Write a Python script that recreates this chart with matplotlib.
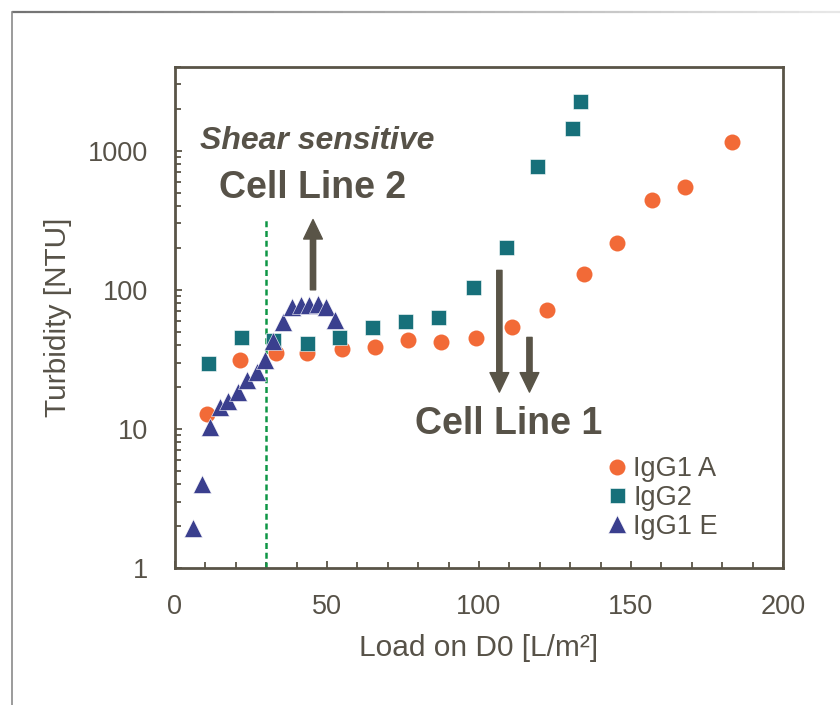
import numpy as np
import matplotlib
matplotlib.use("Agg")
import matplotlib.pyplot as plt
from matplotlib.lines import Line2D
from matplotlib.collections import LineCollection
from matplotlib.ticker import FixedLocator, NullFormatter, LogLocator

plt.rcParams['font.family'] = ['Liberation Sans', 'DejaVu Sans']

# ---- data ----
igg1a_x = [10.4, 21.4, 33.2, 43.5, 54.8, 65.8, 76.8, 87.5, 99.0, 110.9, 122.3, 134.6, 145.5, 157.0, 167.9, 183.3]
igg1a_y = [12.7, 31.3, 35.2, 35.3, 37.3, 38.6, 43.6, 42.4, 45.0, 53.7, 71.5, 129.5, 218, 440, 550, 1151]

igg2_x = [11.0, 21.7, 32.3, 43.5, 53.9, 64.7, 75.7, 86.4, 97.9, 108.8, 119.1, 130.5, 133.1]
igg2_y = [29.6, 45.5, 43.8, 41.7, 46.0, 53.7, 59.3, 63.3, 105.6, 203, 778, 1458, 2264]

igg1e_x = [5.8, 8.8, 11.5, 14.8, 17.5, 20.8, 23.8, 26.9, 29.6, 32.3, 35.6, 38.4, 41.3, 44.2, 47.1, 49.7, 52.6]
igg1e_y = [1.93, 4.05, 10.3, 14.3, 16.0, 18.4, 22.3, 25.5, 31.3, 43.1, 58.3, 74.7, 78.0, 78.0, 79.0, 74.7, 60.6]

series_labels = ['IgG1 A', 'IgG2', 'IgG1 E']
x_ticks = [0, 50, 100, 150, 200]
y_ticks = [1, 10, 100, 1000]
y_tick_labels = ['1', '10', '100', '1000']

shear_x = 30
shear_top = 320
arrow2 = (45.4, 100, 320)          # x, tail y, tip y
arrows1 = [(106.7, 138, 18.4), (116.6, 45.5, 18.4)]

TXT = '#575248'
SPINE = '#595447'
C_ORANGE = '#F26A37'
C_TEAL = '#17707A'
C_NAVY = '#3A3F8E'
C_GREEN = '#0E9645'

fig = plt.figure(figsize=(8.4, 7.05), dpi=100)
ax = fig.add_axes([175/840, 137/705, 608/840, 501/705])

ax.plot(igg1a_x, igg1a_y, 'o', color=C_ORANGE, ms=11.5, mec='none', label=series_labels[0], zorder=3)
ax.plot(igg2_x, igg2_y, 's', color=C_TEAL, ms=10.8, mec='white', mew=0.4, label=series_labels[1], zorder=3)
ax.plot(igg1e_x, igg1e_y, '^', color=C_NAVY, ms=13, mec='white', mew=0.4, label=series_labels[2], zorder=4)

ax.set_yscale('log')
ax.set_xlim(0, 200)
ax.set_ylim(1, 4000)

ax.plot([shear_x, shear_x], [1, shear_top], color=C_GREEN, lw=1.8, dashes=(2.4, 1.5), zorder=2)

aprops = dict(facecolor=SPINE, edgecolor=SPINE, width=3.8, headwidth=13.5, headlength=14, shrink=0)
ax.annotate('', xy=(arrow2[0], arrow2[2]), xytext=(arrow2[0], arrow2[1]), arrowprops=aprops, zorder=5)
for ax_x, ty, hy in arrows1:
    ax.annotate('', xy=(ax_x, hy), xytext=(ax_x, ty), arrowprops=aprops, zorder=5)

ax.text(46.7, 1170, 'Shear sensitive', fontsize=23, fontweight='bold', fontstyle='italic',
        color=TXT, ha='center', va='center')
ax.text(45.4, 538, 'Cell Line 2', fontsize=27, fontweight='bold', color=TXT, ha='center', va='center')
ax.text(109.9, 10.9, 'Cell Line 1', fontsize=27, fontweight='bold', color=TXT, ha='center', va='center')

# ticks
ax.set_xticks(x_ticks)
ax.set_xticks(np.arange(0, 201, 10), minor=True)
ax.yaxis.set_major_locator(FixedLocator(y_ticks))
ax.set_yticklabels(y_tick_labels)
ax.yaxis.set_minor_locator(LogLocator(base=10, subs=np.arange(2, 10)))
ax.yaxis.set_minor_formatter(NullFormatter())
ax.tick_params(which='both', direction='in', colors=SPINE, labelcolor=TXT, labelsize=19.5,
               top=False, right=False, width=1.3)
ax.tick_params(which='major', length=5)
ax.tick_params(which='minor', length=4.5)
ax.tick_params(axis='x', pad=19)
ax.tick_params(axis='y', pad=19)

for s in ax.spines.values():
    s.set_color(SPINE)
    s.set_linewidth(2)

ax.set_xlabel('Load on D0 [L/m²]', fontsize=21.5, color=TXT, labelpad=10)
ax.set_ylabel('Turbidity [NTU]', fontsize=21.5, color=TXT, labelpad=12)

leg = ax.legend(loc='lower right', bbox_to_anchor=(0.911, 0.035), frameon=False, fontsize=19.5,
                handlelength=0.6, handletextpad=0.3, labelspacing=0.1, borderaxespad=0,
                markerscale=1.0)
for t in leg.get_texts():
    t.set_color(TXT)

# outer frame lines (top fades to the right)
n = 60
xs = np.linspace(12/840, 1.0, n + 1)
segs = [[(xs[i], 1 - 12/705), (xs[i+1], 1 - 12/705)] for i in range(n)]
cols = [(0.45, 0.45, 0.45, 1 - 0.85 * i / n) for i in range(n)]
fig.add_artist(LineCollection(segs, colors=cols, linewidths=1.6, transform=fig.transFigure))
fig.add_artist(Line2D([12/840, 12/840], [0, 1 - 12/705], color='#8a8a8a', lw=1.2, transform=fig.transFigure))

fig.savefig('out.png', dpi=100, facecolor='white')
